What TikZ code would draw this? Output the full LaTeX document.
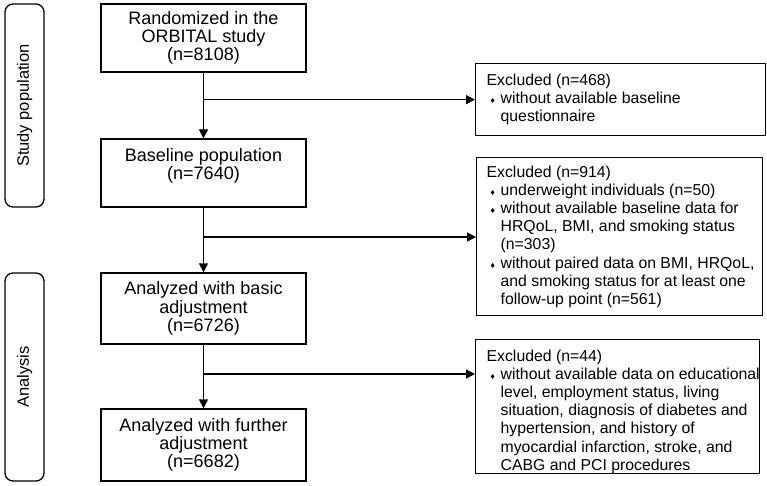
\documentclass[tikz,border=0pt]{standalone}
\usepackage{fontspec}
\setmainfont{Liberation Sans}
\newfontfamily\symfont{DejaVu Sans}
\usetikzlibrary{arrows.meta}
\newcommand{\dmd}{\makebox[14pt][l]{\hspace{3pt}{\symfont\fontsize{7}{7}\selectfont ♦}}}
\newcommand{\ind}{\hspace*{14pt}}
\begin{document}
\begin{tikzpicture}[x=1pt, y=-1pt, line width=1.3pt,
    mainbox/.style={draw, rectangle, minimum width=205pt, inner sep=0pt, align=center, font=\fontsize{18}{18.3}\selectfont},
    exbox/.style={draw, rectangle, inner sep=0pt, anchor=north west},
    extext/.style={anchor=west, inner sep=0pt, align=left, font=\fontsize{15.8}{18.2}\selectfont},
    phase/.style={draw, rounded corners=8pt, rotate=90, minimum height=39pt, inner sep=0pt, font=\fontsize{16.5}{18.3}\selectfont},
    flow/.style={-{Triangle[length=9pt, width=9pt]}}]
    \useasboundingbox (0,0) rectangle (767,486);
    % Phases on the left
    \node[phase, minimum width=203pt] (study) at (24.5,105.5) {Study population};
    \node[phase, minimum width=208pt] (analysis) at (24.5,377) {Analysis};

    % Main flow
    \node[mainbox, minimum height=68pt] (rand) at (203.5,38) {Randomized in the\\ORBITAL study\\(n=8108)};
    \node[mainbox, minimum height=68pt] (base) at (203.5,173) {Baseline population\\(n=7640)\\~};
    \node[mainbox, minimum height=71pt] (basic) at (203.5,308.5) {Analyzed with basic\\adjustment\\(n=6726)};
    \node[mainbox, minimum height=72pt] (further) at (203.5,445) {Analyzed with further\\adjustment\\(n=6682)};

    % Exclusion boxes
    \node[exbox, minimum width=290pt, minimum height=72pt] (exA) at (475,63) {};
    \node[extext] (exAtext) at ([xshift=11pt]exA.west) {Excluded (n=468)\\
        \dmd without available baseline\\
        \ind questionnaire};
    \node[exbox, minimum width=286pt, minimum height=158pt] (exB) at (476,157) {};
    \node[extext] (exBtext) at ([xshift=10pt]exB.west) {Excluded (n=914)\\
        \dmd underweight individuals (n=50)\\
        \dmd without available baseline data for\\
        \ind HRQoL, BMI, and smoking status\\
        \ind (n=303)\\
        \dmd without paired data on BMI, HRQoL,\\
        \ind and smoking status for at least one\\
        \ind follow-up point (n=561)};
    \node[exbox, minimum width=284pt, minimum height=134pt] (exC) at (475,339) {};
    \node[extext] (exCtext) at ([xshift=11pt, yshift=-5pt]exC.west) {Excluded (n=44)\\
        \dmd without available data on educational\\
        \ind level, employment status, living\\
        \ind situation, diagnosis of diabetes and\\
        \ind hypertension, and history of\\
        \ind myocardial infarction, stroke, and\\
        \ind CABG and PCI procedures};

    % Junctions on the main line
    \coordinate (j1) at (rand.south |- exA.west);
    \coordinate (j2) at (203.5,237);
    \coordinate (j3) at (203.5,374);

    % Arrows
    \draw[flow] (rand) -- (base);
    \draw[flow] (base) -- (basic);
    \draw[flow] (basic) -- (further);
    \draw[flow] (j1) -- (exA.west);
    \draw[flow] (j2) -- (j2 -| exB.west);
    \draw[flow] (j3) -- (j3 -| exC.west);
\end{tikzpicture}
\end{document}
